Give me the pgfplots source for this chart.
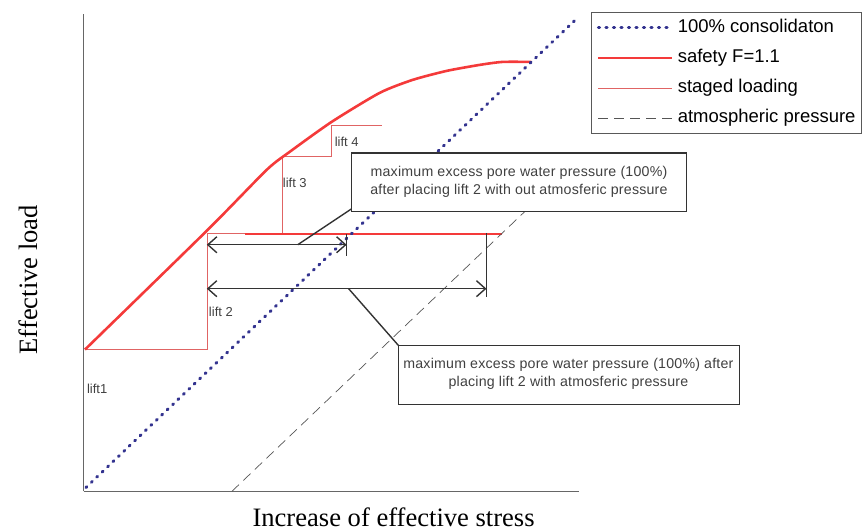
\documentclass[border=0pt]{standalone}
\usepackage{pgfplots}
\pgfplotsset{compat=1.18}
\usepackage{fontspec}
\setmainfont{Liberation Sans}
\newfontfamily\labelserif{Liberation Serif}
\newfontfamily\annotfont[LetterSpace=1.5]{Liberation Sans}
\usetikzlibrary{arrows.meta}

\definecolor{consol}{HTML}{33338F}
\definecolor{safety}{HTML}{F43A3A}
\definecolor{staged}{HTML}{E06464}
\definecolor{atmos}{HTML}{555555}
\definecolor{annot}{HTML}{333333}
\definecolor{annottext}{HTML}{404040}

\begin{document}
\begin{tikzpicture}
\begin{axis}[
  scale only axis,
  width=496pt, height=478pt,
  xmin=84, xmax=580, ymin=-492, ymax=-14,
  axis x line=bottom, axis y line=left,
  axis line style={-, draw=gray!80!black, line width=1.1pt},
  ticks=none,
  clip=false,
  legend cell align=left,
  legend style={
    at={(1.0242,1.0042)}, anchor=north west,
    draw=gray!70!black, line width=1pt,
    font=\fontsize{18.5}{22}\selectfont,
    row sep=11pt, inner xsep=5pt, inner ysep=6pt,
    nodes={inner sep=1pt, text height=13pt, text depth=4pt},
  },
  legend image code/.code={\draw[#1] (0pt,0pt) -- (74pt,0pt);},
]
% page extent
\path (axis cs:0,-532) rectangle (axis cs:862,0);

% legend entries
\addlegendimage{consol, line width=3pt, dash pattern=on 1.2pt off 6.3pt, line cap=round}
\addlegendentry{\hspace{3pt}100\% consolidaton}
\addlegendimage{safety, line width=2.6pt}
\addlegendentry{\hspace{3pt}safety F=1.1}
\addlegendimage{staged, line width=0.7pt}
\addlegendentry{\hspace{3pt}staged loading}
\addlegendimage{atmos, line width=0.7pt, dash pattern=on 10pt off 6pt}
\addlegendentry{\hspace{3pt}atmospheric pressure}

% staged loading steps
\addplot[forget plot, staged, line width=0.9pt] coordinates {
  (85,-350) (208,-350) (208,-234) (283,-234)};
\addplot[forget plot, staged, line width=0.9pt] coordinates {
  (283,-234) (283,-157) (332,-157) (332,-126) (382,-126)};
\addplot[forget plot, safety, line width=1.5pt] coordinates {
  (245,-234) (503,-234)};

% safety curve F=1.1
\addplot[forget plot, safety, line width=2.6pt, smooth, tension=0.4] coordinates {
  (85,-350) (208,-230) (267,-170) (290,-152) (332,-122) (380,-93)
  (413,-80) (447,-71) (480,-65) (503,-62) (532,-62)};

% atmospheric pressure
\addplot[forget plot, atmos, line width=0.7pt, dash pattern=on 10pt off 6pt] coordinates {
  (232,-492) (545,-193)};

% 100% consolidation
\addplot[forget plot, consol, line width=3pt, dash pattern=on 1.2pt off 6.3pt, line cap=round] coordinates {
  (86,-488) (578,-18)};

% dimension arrows
\draw[annot, line width=1.4pt, {Straight Barb[length=9pt,width=16pt]}-{Straight Barb[length=9pt,width=16pt]}]
  (axis cs:207,-245) -- (axis cs:347,-245);
\draw[annot, line width=1.4pt] (axis cs:347,-234) -- (axis cs:347,-256);
\draw[annot, line width=1.4pt, {Straight Barb[length=9pt,width=16pt]}-{Straight Barb[length=9pt,width=16pt]}]
  (axis cs:207,-289) -- (axis cs:487,-289);
\draw[annot, line width=1.4pt] (axis cs:487,-233) -- (axis cs:487,-297);

% leader lines
\draw[annot, line width=1.4pt] (axis cs:298,-245) -- (axis cs:352,-209);
\draw[annot, line width=1.4pt] (axis cs:349,-289) -- (axis cs:399,-346);

% annotation boxes
\draw[annot, line width=1.4pt, fill=white] (axis cs:352,-153) rectangle (axis cs:687,-212);
\node[annottext, font=\annotfont\fontsize{14.2}{17}\selectfont] at (axis cs:519.5,-173) {maximum excess pore water pressure (100\%)};
\node[annottext, font=\annotfont\fontsize{14.2}{17}\selectfont] at (axis cs:519.5,-191) {after placing lift 2 with out atmosferic pressure};

\draw[annot, line width=1.4pt, fill=white] (axis cs:399,-346) rectangle (axis cs:740,-405);
\node[annottext, font=\annotfont\fontsize{14.2}{17}\selectfont] at (axis cs:569,-365) {maximum excess pore water pressure (100\%) after};
\node[annottext, font=\annotfont\fontsize{14.2}{17}\selectfont] at (axis cs:569,-383) {placing lift 2 with atmosferic pressure};

% lift labels
\node[annottext, anchor=west, inner sep=0pt, font=\fontsize{13}{15}\selectfont] at (axis cs:87,-389) {lift1};
\node[annottext, anchor=west, inner sep=0pt, font=\fontsize{13}{15}\selectfont] at (axis cs:209,-312) {lift 2};
\node[annottext, anchor=west, inner sep=0pt, font=\fontsize{13}{15}\selectfont] at (axis cs:283,-183) {lift 3};
\node[annottext, anchor=west, inner sep=0pt, font=\fontsize{13}{15}\selectfont] at (axis cs:335,-142) {lift 4};

% axis titles
\node[font=\labelserif\fontsize{26.6}{30}\selectfont] at (axis cs:394,-518) {Increase of effective stress};
\node[rotate=90, font=\labelserif\fontsize{26.6}{30}\selectfont] at (axis cs:28,-280) {Effective load};
\end{axis}
\end{tikzpicture}
\end{document}
